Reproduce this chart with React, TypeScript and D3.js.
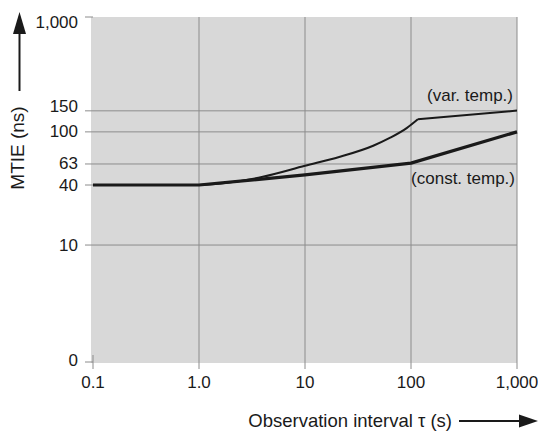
import * as d3 from "d3";

const constTau = [0.1, 1, 10, 100, 1000];
const constMtie = [40, 40, 51, 64, 100];
// var. temp. curve: smooth rise up to the knee, then straight to the end
const varCurveTau = [0.1, 1, 2, 4, 10, 21, 44, 63, 91, 116];
const varCurveMtie = [40, 40, 43, 49, 61, 71, 84, 93, 109, 130];
const varTailTau = [116, 1000];
const varTailMtie = [130, 152];

const xTicks = [0.1, 1, 10, 100, 1000];
const xTickLabels = ["0.1", "1.0", "10", "100", "1,000"];
const yTicks = [0, 10, 40, 63, 100, 150, 1000];
const yTickLabels = ["0", "10", "40", "63", "100", "150", "1,000"];
const yGridTicks = [10, 63, 100, 150];
// where each y tick sits, as a share of the plot height from the top
const yTickShare = [1, 0.661, 0.487, 0.426, 0.333, 0.272, 0];

const W = 538;
const H = 431;
const margin = { top: 17, right: 21, bottom: 69, left: 93 };
const FONT = "'Liberation Sans', Arial, Helvetica, sans-serif";
const ink = "#1a1a1a";
const grid = "#8c8c8c";

export default function App() {
  const x0 = margin.left;
  const x1 = W - margin.right;
  const y0 = margin.top;
  const y1 = H - margin.bottom;
  const ph = y1 - y0;

  const x = d3.scaleLog().domain([0.1, 1000]).range([x0, x1]);
  const y = d3
    .scaleLinear()
    .domain(yTicks)
    .range(yTickShare.map((s) => y0 + s * ph));

  const lineOf = (vals: number[], curve: d3.CurveFactory) =>
    d3
      .line<number>()
      .x((d) => x(d))
      .y((_, i) => y(vals[i]))
      .curve(curve);

  const labelNudge: Record<number, number> = { 1000: 5, 150: -4, 0: -2 };

  return (
    <svg
      width={W}
      height={H}
      style={{ position: "absolute", left: 0, top: 0, background: "#fff" }}
      fontFamily={FONT}
    >
      <rect x={x0 - 2} y={y0} width={x1 - x0 + 2} height={y1 - y0 + 1} fill="#d8d8d8" />

      {/* horizontal grid + y ticks */}
      {yTicks.map((t, i) => (
        <g key={"y" + t}>
          <line
            x1={x0 - 8}
            x2={yGridTicks.includes(t) ? x1 : x0}
            y1={y(t)}
            y2={y(t)}
            stroke={grid}
            strokeWidth={1}
          />
          <text
            x={x0 - 15}
            y={y(t) + (labelNudge[t] ?? 0)}
            textAnchor="end"
            dominantBaseline="central"
            fontSize={17}
            fill={ink}
          >
            {yTickLabels[i]}
          </text>
        </g>
      ))}

      {/* vertical grid + x ticks */}
      {xTicks.map((t, i) => (
        <g key={"x" + t}>
          <line
            x1={x(t)}
            x2={x(t)}
            y1={i === 0 ? y1 - 7 : y0}
            y2={y1 + 7}
            stroke={grid}
            strokeWidth={1}
          />
          <text x={x(t)} y={y1 + 26} textAnchor="middle" fontSize={17} fill={ink}>
            {xTickLabels[i]}
          </text>
        </g>
      ))}

      <path
        d={(lineOf(varCurveMtie, d3.curveMonotoneX)(varCurveTau) ?? "") + (lineOf(varTailMtie, d3.curveLinear)(varTailTau) ?? "")}
        fill="none"
        stroke={ink}
        strokeWidth={2}
        strokeLinejoin="round"
      />
      <path
        d={lineOf(constMtie, d3.curveLinear)(constTau) ?? ""}
        fill="none"
        stroke={ink}
        strokeWidth={3.2}
        strokeLinejoin="round"
      />

      <text x={x1 - 4} y={101} textAnchor="end" fontSize={17} fill={ink}>
        (var. temp.)
      </text>
      <text x={x1 - 2} y={184} textAnchor="end" fontSize={17} fill={ink}>
        (const. temp.)
      </text>

      {/* y axis title and arrow */}
      <line x1={19.5} x2={19.5} y1={91} y2={32} stroke={ink} strokeWidth={2} />
      <polygon points="13,34 26,34 19.5,12" fill={ink} />
      <text
        transform="translate(24,148) rotate(-90)"
        textAnchor="middle"
        fontSize={19}
        fill={ink}
      >
        MTIE (ns)
      </text>

      {/* x axis title and arrow */}
      <text x={452} y={427} textAnchor="end" fontSize={18.5} fill={ink}>
        Observation interval τ (s)
      </text>
      <line x1={459} x2={522} y1={421} y2={421} stroke={ink} strokeWidth={2.2} />
      <polygon points="519,414.5 519,427.5 538,421" fill={ink} />
    </svg>
  );
}
